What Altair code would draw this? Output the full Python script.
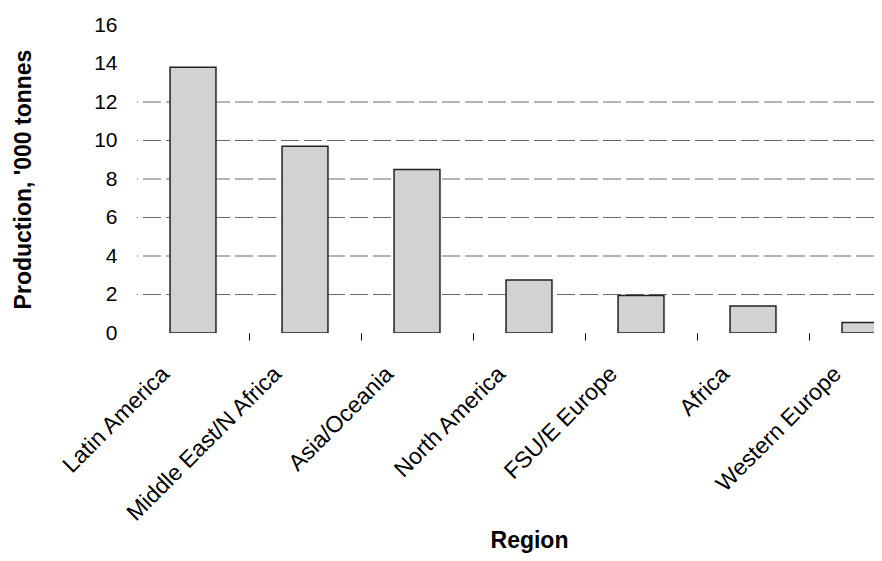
import altair as alt
import pandas as pd

regions = ["Latin America", "Middle East/N Africa", "Asia/Oceania", "North America",
           "FSU/E Europe", "Africa", "Western Europe"]
production = [13.8, 9.7, 8.5, 2.75, 1.95, 1.4, 0.55]
y_ticks = [0, 2, 4, 6, 8, 10, 12, 14, 16]
grid_values = [2, 4, 6, 8, 10, 12]

df = pd.DataFrame({"Region": regions, "Production": production})
grid_df = pd.DataFrame({"Production": grid_values})

FONT = "Liberation Sans"

x_enc = alt.X(
    "Region:N",
    sort=regions,
    scale=alt.Scale(range=[0, 784], paddingInner=0.59, paddingOuter=0.295),
    axis=alt.Axis(
        title="Region",
        labelAngle=-45,
        labelAlign="right",
        labelBaseline="middle",
        labelFontSize=23,
        labelPadding=30,
        labelOffset=-84,
        labelLimit=0,
        labelColor="black",
        labelOverlap=False,
        tickOffset=56,
        tickSize=7,
        tickColor="black",
        tickWidth=1,
        domain=False,
        titleFontSize=23,
        titleFontWeight="bold",
        titleColor="black",
        titleX=392,
        titleY=214,
        titleBaseline="alphabetic",
        titleAlign="center",
    ),
)

y_axis = alt.Axis(
    values=y_ticks,
    title="Production, '000 tonnes",
    grid=False,
    ticks=False,
    domain=False,
    labelFontSize=21,
    labelPadding=20,
    labelColor="black",
    titleFontSize=23,
    titleFontWeight="bold",
    titleColor="black",
    titleX=-114,
    titleY=154,
    titleAlign="center",
    titleBaseline="middle",
)
y_scale = alt.Scale(domain=[0, 16], nice=False)

bars = alt.Chart(df).mark_bar(
    clip=True, fill="#d2d2d2", stroke="#222222", strokeWidth=1.5
).encode(x=x_enc, y=alt.Y("Production:Q", scale=y_scale, axis=y_axis))

rules = alt.Chart(grid_df).mark_rule(
    color="#444444", strokeWidth=1, strokeDash=[18, 5], opacity=0.8
).encode(y=alt.Y("Production:Q", scale=y_scale, axis=y_axis))

chart = alt.layer(rules, bars).properties(
    width=737,
    height=308,
    autosize=alt.AutoSizeParams(type="none"),
    padding={"left": 129, "top": 17, "right": 0, "bottom": 220},
).configure_view(stroke=None).configure_axis(labelFont=FONT, titleFont=FONT)

chart.save("out.html", embed_options={"renderer": "svg", "actions": False})
